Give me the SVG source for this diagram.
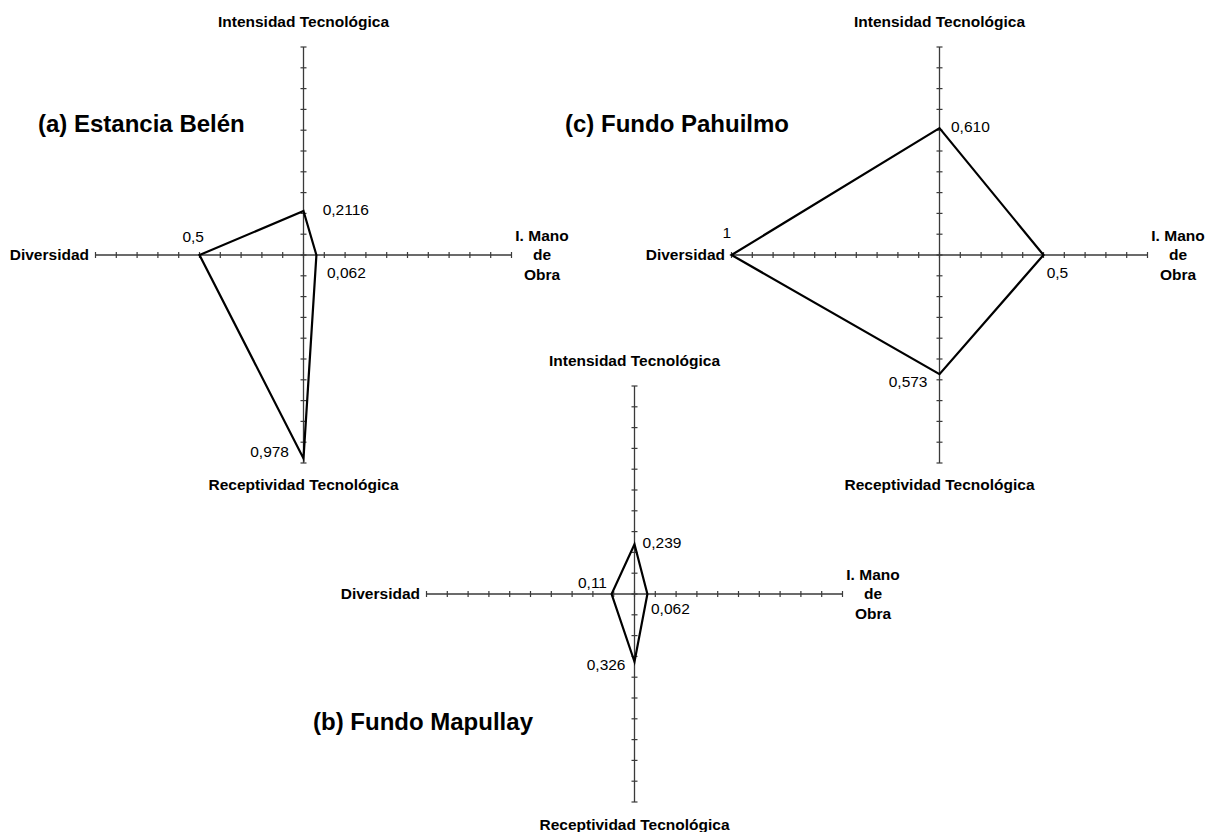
<svg xmlns="http://www.w3.org/2000/svg" xmlns:xlink="http://www.w3.org/1999/xlink" width="1208" height="832" viewBox="0 0 1208 832">
<style>
  text { font-family: "Liberation Sans", Arial, sans-serif; fill: #000; }
  .ax { font-size: 15.5px; font-weight: bold; }
  .val { font-size: 15.5px; }
  .title { font-size: 24px; font-weight: bold; }
  .axis { fill: none; stroke: #3a3a3a; stroke-width: 1.3; marker-start: url(#tick); marker-mid: url(#tick); marker-end: url(#tick); }
  .poly { fill: none; stroke: #000; stroke-width: 2.2; stroke-linejoin: miter; }
</style>
<defs>
  <marker id="tick" viewBox="-5 -5 10 10" markerWidth="10" markerHeight="10" refX="0" refY="0" markerUnits="userSpaceOnUse" orient="auto">
    <path d="M0,-3V3" stroke="#3a3a3a" stroke-width="1.2"/>
  </marker>
  <g id="axes">
    <polyline class="axis" points="-208,0 -187.2,0 -166.4,0 -145.6,0 -124.8,0 -104,0 -83.2,0 -62.4,0 -41.6,0 -20.8,0 0,0 20.8,0 41.6,0 62.4,0 83.2,0 104,0 124.8,0 145.6,0 166.4,0 187.2,0 208,0"/>
    <polyline class="axis" points="0,-208 0,-187.2 0,-166.4 0,-145.6 0,-124.8 0,-104 0,-83.2 0,-62.4 0,-41.6 0,-20.8 0,0 0,20.8 0,41.6 0,62.4 0,83.2 0,104 0,124.8 0,145.6 0,166.4 0,187.2 0,208"/>
  </g>
</defs>

<g id="chart-a" transform="translate(303.5,255)">
  <use xlink:href="#axes" href="#axes"/>
  <polygon class="poly" points="0,-44 12.9,0 0,203.4 -104,0"/>
  <text class="title" x="-265.5" y="-123.3">(a) Estancia Belén</text>
  <text class="ax" x="0" y="-228.5" text-anchor="middle">Intensidad Tecnológica</text>
  <text class="ax" x="0" y="235" text-anchor="middle">Receptividad Tecnológica</text>
  <text class="ax" x="-214.5" y="5" text-anchor="end">Diversidad</text>
  <text class="ax" text-anchor="middle"><tspan x="238.5" y="-14.5">I. Mano</tspan><tspan x="238.5" y="5">de</tspan><tspan x="238.5" y="24.5">Obra</tspan></text>
  <text class="val" x="19.2" y="-40">0,2116</text>
  <text class="val" x="23.5" y="23.3">0,062</text>
  <text class="val" x="-99.5" y="-13.5" text-anchor="end">0,5</text>
  <text class="val" x="-14.5" y="201.7" text-anchor="end">0,978</text>
</g>

<g id="chart-c" transform="translate(939.5,255)">
  <use xlink:href="#axes" href="#axes"/>
  <polygon class="poly" points="0,-126.9 104,0 0,119.2 -208,0"/>
  <text class="title" x="-374.5" y="-123.3">(c) Fundo Pahuilmo</text>
  <text class="ax" x="0" y="-228.5" text-anchor="middle">Intensidad Tecnológica</text>
  <text class="ax" x="0" y="235" text-anchor="middle">Receptividad Tecnológica</text>
  <text class="ax" x="-214.5" y="5" text-anchor="end">Diversidad</text>
  <text class="ax" text-anchor="middle"><tspan x="238.5" y="-14.5">I. Mano</tspan><tspan x="238.5" y="5">de</tspan><tspan x="238.5" y="24.5">Obra</tspan></text>
  <text class="val" x="11.5" y="-123">0,610</text>
  <text class="val" x="-208.5" y="-17" text-anchor="end">1</text>
  <text class="val" x="107.2" y="23">0,5</text>
  <text class="val" x="-12" y="131.5" text-anchor="end">0,573</text>
</g>

<g id="chart-b" transform="translate(634.5,594)">
  <use xlink:href="#axes" href="#axes"/>
  <polygon class="poly" points="0,-49.7 12.9,0 0,67.8 -22.9,0"/>
  <text class="title" x="-321.5" y="136">(b) Fundo Mapullay</text>
  <text class="ax" x="0" y="-228.5" text-anchor="middle">Intensidad Tecnológica</text>
  <text class="ax" x="0" y="235.5" text-anchor="middle">Receptividad Tecnológica</text>
  <text class="ax" x="-214.5" y="5" text-anchor="end">Diversidad</text>
  <text class="ax" text-anchor="middle"><tspan x="238.5" y="-14.5">I. Mano</tspan><tspan x="238.5" y="5">de</tspan><tspan x="238.5" y="24.5">Obra</tspan></text>
  <text class="val" x="8.1" y="-46">0,239</text>
  <text class="val" x="-27.5" y="-6" text-anchor="end">0,11</text>
  <text class="val" x="16.5" y="20">0,062</text>
  <text class="val" x="-9" y="76" text-anchor="end">0,326</text>
</g>
</svg>
